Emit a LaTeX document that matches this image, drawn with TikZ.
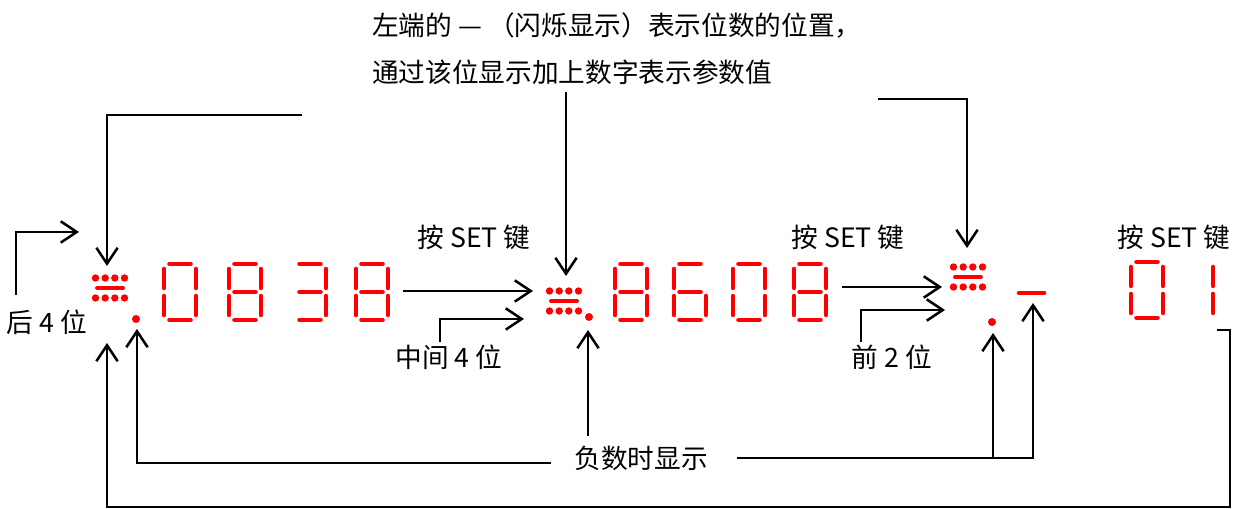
\documentclass[tikz,border=0pt]{standalone}
\usepackage{fontspec}
\setmainfont{Noto Sans CJK SC}
\usetikzlibrary{arrows.meta,positioning}
\definecolor{segred}{RGB}{255,0,0}
\tikzset{
  wire/.style={line width=2.2pt},
  arr/.style={wire, -{Straight Barb[length=12pt,width=16pt,line width=1.9pt]}},
  seg/.style={draw=segred, line width=3.4pt, line cap=round},
  bar/.style={draw=segred, line width=2.8pt, line cap=round},
  lbl/.style={inner sep=0pt, font=\fontsize{20pt}{24pt}\selectfont},
}
\def\sega{(-10.5,-28) -- (10.5,-28)}
\def\segb{(16,-23) -- (16,-4)}
\def\segc{(16,4) -- (16,23)}
\def\segd{(-10.5,28) -- (10.5,28)}
\def\sege{(-16,4) -- (-16,23)}
\def\segf{(-16,-23) -- (-16,-4)}
\def\segg{(-10.5,0) -- (10.5,0)}
\newcommand\segdigit[2]{\begin{scope}[shift={(#1)}]
  \foreach \s in {#2}{\draw[seg] \csname seg\s\endcsname;}
\end{scope}}
\newcommand\blinkmark[1]{\begin{scope}[shift={(#1)}]
  \foreach \dx in {-14.5,-4.8,4.8,14.5}{\fill[segred] (\dx,-10) circle[radius=3.7] (\dx,10) circle[radius=3.7];}
  \draw[bar] (-13,0) -- (13,0);
\end{scope}}

\begin{document}
\begin{tikzpicture}[x=0.75pt,y=-0.75pt]
  \useasboundingbox (0,0) rectangle (1233,509);
  \node[lbl,anchor=west] (noteA) at (372,26) {左端的 — （闪烁显示）表示位数的位置，};
  \node[lbl,anchor=west] (noteB) at (372,72) {通过该位显示加上数字表示参数值};
  \node[lbl] (setA) at (474,237) {按 SET 键};
  \node[lbl] (setB) at (848,237) {按 SET 键};
  \node[lbl] (setC) at (1174,237) {按 SET 键};
  \node[lbl] (low4) at (47,322) {后 4 位};
  \node[lbl] (mid4) at (449,357) {中间 4 位};
  \node[lbl] (top2) at (892,357) {前 2 位};
  \node[lbl] (neg) at (641,458) {负数时显示};

  \blinkmark{110,288}
  \fill[segred] (136,319) circle[radius=4];
  \segdigit{180,292}{a,b,c,d,e,f}
  \segdigit{245,292}{a,b,c,d,e,f,g}
  \segdigit{310,292}{a,b,c,d,g}
  \segdigit{372,292}{a,b,c,d,e,f,g}
  \blinkmark{564,301}
  \fill[segred] (589,317) circle[radius=4];
  \segdigit{631,292}{a,b,c,d,e,f,g}
  \segdigit{690,292}{a,c,d,e,f,g}
  \segdigit{749,292}{a,b,c,d,e,f}
  \segdigit{810,292}{a,b,c,d,e,f,g}
  \blinkmark{968,277}
  \fill[segred] (992,322) circle[radius=4];
  \draw[seg] (1019,293) -- (1044,293);
  \segdigit{1147,290}{a,b,c,d,e,f}
  \segdigit{1197,290}{b,c}

  \coordinate (symA) at (107,266);
  \coordinate (symB) at (566,276);
  \coordinate (symC) at (967,248);
  \coordinate (dotA) at (137,329);
  \coordinate (dotB) at (588,330);
  \coordinate (dotC) at (993,333);
  \coordinate (dashC) at (1033,303);
  \coordinate (loopA) at (107,343);
  \coordinate (topA) at (302,115);
  \coordinate (topB) at (566,92);
  \coordinate (topC) at (878,99);
  \coordinate (low4s) at (16,295);
  \coordinate (low4e) at (79,232);
  \coordinate (setAs) at (403,291);
  \coordinate (setAe) at (533,291);
  \coordinate (mid4s) at (440,342);
  \coordinate (mid4e) at (524,319);
  \coordinate (setBs) at (842,287);
  \coordinate (setBe) at (942,287);
  \coordinate (top2s) at (861,342);
  \coordinate (top2e) at (945,310);
  \coordinate (negL) at (551,463);
  \coordinate (negM) at (588,436);
  \coordinate (negR) at (737,458);
  \coordinate (loopR) at (1217,330);

  \draw[arr] (topA) -| (symA);
  \draw[arr] (topB) -- (symB);
  \draw[arr] (topC) -| (symC);
  \draw[arr] (low4s) |- (low4e);
  \draw[arr] (setAs) -- (setAe);
  \draw[arr] (mid4s) |- (mid4e);
  \draw[arr] (setBs) -- (setBe);
  \draw[arr] (top2s) |- (top2e);
  \draw[arr] (negL) -| (dotA);
  \draw[arr] (negM) -- (dotB);
  \draw[arr] (negR) -| (dashC);
  \draw[arr] (negR -| dotC) -- (dotC);
  \draw[arr] (loopR) -| (1230,507) -| (loopA);
\end{tikzpicture}
\end{document}
